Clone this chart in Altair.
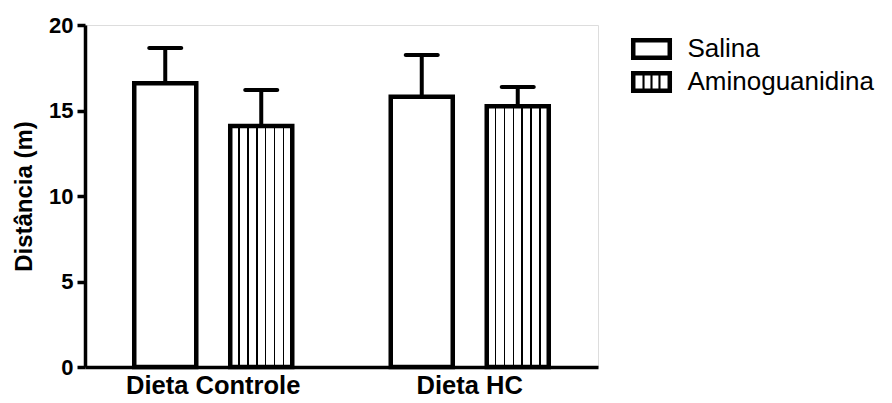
import altair as alt
import pandas as pd

FONT = "Liberation Sans"

diets = ["Dieta Controle", "Dieta Controle", "Dieta HC", "Dieta HC"]
groups = ["Salina", "Aminoguanidina", "Salina", "Aminoguanidina"]
means = [16.6, 14.1, 15.8, 15.25]
errs = [2.05, 2.1, 2.45, 1.12]

diet_order = ["Dieta Controle", "Dieta HC"]
group_order = ["Salina", "Aminoguanidina"]

df = pd.DataFrame({"dieta": diets, "grupo": groups, "media": means, "erro": errs})

# vertical stripe fill for the Aminoguanidina bars
stops = [alt.GradientStop(offset=0, color="white")]
hw = 0.013
for k in range(1, 7):
    c = k / 7
    stops += [
        alt.GradientStop(offset=c - hw, color="white"),
        alt.GradientStop(offset=c - hw, color="black"),
        alt.GradientStop(offset=c + hw, color="black"),
        alt.GradientStop(offset=c + hw, color="white"),
    ]
stops.append(alt.GradientStop(offset=1, color="white"))
stripes = alt.LinearGradient(gradient="linear", x1=0, x2=1, y1=0, y2=0, stops=stops)

# legend symbol paths
frame = "M-1.08,-0.58H1.08V0.58H-1.08Z M-0.843,-0.343V0.343H0.843V-0.343Z"
lines = "".join(
    f" M{c - 0.055:.3f},-0.343H{c + 0.055:.3f}V0.343H{c - 0.055:.3f}Z" for c in (-0.42, 0.0, 0.42)
)
frame_striped = frame + lines

x = alt.X(
    "dieta:N",
    sort=diet_order,
    scale=alt.Scale(domain=diet_order, paddingInner=0, paddingOuter=0),
    axis=alt.Axis(
        title=None, labelAngle=0, ticks=False, labelPadding=6,
        labelFontSize=25.5, labelFontWeight="bold", labelFont=FONT, labelColor="black",
        domainWidth=3.5, domainColor="black",
    ),
)
xo = alt.XOffset(
    "grupo:N",
    sort=group_order,
    scale=alt.Scale(domain=group_order, paddingInner=0.354, paddingOuter=0.513),
)
y = alt.Y(
    "media:Q",
    scale=alt.Scale(domain=[0, 20], nice=False),
    axis=alt.Axis(
        title="Distância (m)", values=[0, 5, 10, 15, 20], grid=False,
        labelFontSize=22, labelFontWeight="bold", labelFont=FONT, labelColor="black",
        labelPadding=4, tickSize=8, tickWidth=3.5, tickColor="black",
        domainWidth=3.5, domainColor="black",
        titleFontSize=24, titleFontWeight="bold", titleFont=FONT, titleColor="black",
        titlePadding=12,
    ),
)

base = alt.Chart(df).transform_calculate(topo="datum.media + datum.erro")

err_rule = base.mark_rule(color="black", strokeWidth=4).encode(
    x=x, xOffset=xo, y=y, y2="topo:Q"
)
err_cap = base.mark_tick(color="black", thickness=4, size=36, opacity=1, cornerRadius=2).encode(
    x=x, xOffset=xo, y="topo:Q"
)
bars_sal = base.transform_filter(alt.datum.grupo == "Salina").mark_bar(
    fill="white", stroke="black", strokeWidth=4.5
).encode(x=x, xOffset=xo, y=y)
bars_ami = base.transform_filter(alt.datum.grupo == "Aminoguanidina").mark_bar(
    fill=stripes, stroke="black", strokeWidth=4.5
).encode(x=x, xOffset=xo, y=y)

legend_layer = base.mark_point(filled=True, color="black", size=0, opacity=1).encode(
    x=x, xOffset=xo, y=y,
    shape=alt.Shape(
        "grupo:N",
        sort=group_order,
        scale=alt.Scale(domain=group_order, range=[frame, frame_striped]),
        legend=alt.Legend(
            title=None, orient="none", legendX=547.5, legendY=5,
            symbolSize=1444, symbolStrokeWidth=0, symbolFillColor="black",
            labelFontSize=26, labelFont=FONT, labelColor="black", labelLimit=0,
            labelOffset=17, rowPadding=1, padding=0,
        ),
    ),
)

chart = (
    alt.layer(err_rule, err_cap, bars_sal, bars_ami, legend_layer)
    .properties(
        width=513, height=342,
        autosize=alt.AutoSizeParams(type="none"),
        padding={"left": 77, "top": 17, "right": 286, "bottom": 36},
    )
    .configure_view(stroke=None)
    .configure(background="white")
)

chart.save("out.html", embed_options={"renderer": "svg", "actions": False})
